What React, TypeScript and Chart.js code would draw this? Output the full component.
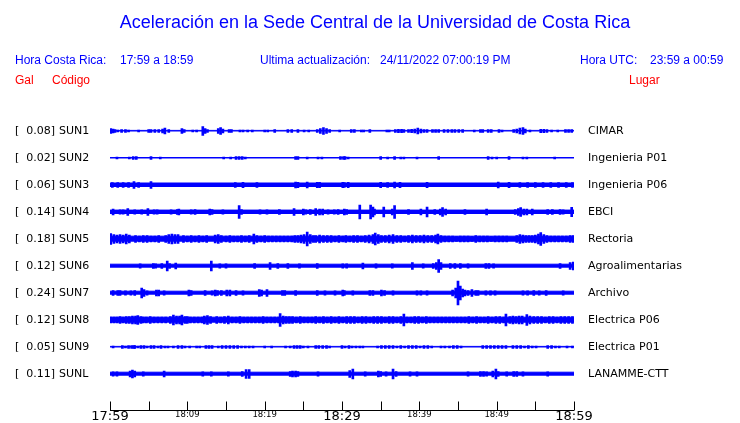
import React, { useEffect, useRef } from 'react';
import { Chart, registerables } from 'chart.js';
Chart.register(...registerables);

// ---- Data ----
const titleText = 'Aceleración en la Sede Central de la Universidad de Costa Rica';
const codes = ['SUN1', 'SUN2', 'SUN3', 'SUN4', 'SUN5', 'SUN6', 'SUN7', 'SUN8', 'SUN9', 'SUNL'];
const galMax = ['0.08', '0.02', '0.06', '0.14', '0.18', '0.12', '0.24', '0.12', '0.05', '0.11'];
const places = ['CIMAR', 'Ingenieria P01', 'Ingenieria P06', 'EBCI', 'Rectoria', 'Agroalimentarias', 'Archivo', 'Electrica P06', 'Electrica P01', 'LANAMME-CTT'];
// minutes after 17:59
const tickMinutes = [0, 5, 10, 15, 20, 25, 30, 35, 40, 45, 50, 55, 60];
const labelMinutes = [0, 10, 20, 30, 40, 50, 60];
const timeLabels = ['17:59', '18:09', '18:19', '18:29', '18:39', '18:49', '18:59'];
const majorLabels = ['17:59', '18:29', '18:59'];

// background noise half-amplitude of each trace
const baseAmp = [0.6, 0.5, 2.0, 1.9, 2.8, 1.8, 1.8, 2.8, 0.6, 1.8];

// [minute, half-amplitude]
const sun1 = [[0.1,2.3],[0.4,2],[0.65,1.5],[1.0,1],[1.5,1.3],[2.0,1.3],[2.4,1],[3.7,1],[5.0,1.3],[5.3,1.3],[5.8,1.5],[6.3,1.3],[6.8,2],[7.1,2.8],[7.6,1.3],[9.3,2.5],[9.6,1.3],[10.7,1],[11.2,1],[12.0,4.3],[12.3,2.5],[12.6,1.5],[14.0,2.5],[14.3,3.3],[14.6,2],[15.4,1.5],[15.7,1.5],[16.8,1],[17.2,1],[17.8,1],[18.4,1],[20.0,1],[20.4,1],[21.3,1.3],[23.0,1.3],[23.5,1.3],[24.3,1.3],[25.1,1],[25.7,1],[26.8,1.5],[27.2,2.5],[27.6,3.3],[28.0,2.5],[28.4,1.5],[29.7,1],[31.2,1.5],[31.6,1.5],[32.5,1],[32.8,1],[33.6,1.5],[35.8,1],[36.1,1],[36.9,1.3],[37.3,1.7],[37.7,1.7],[38.0,1.3],[38.6,1.3],[39.0,1.7],[39.4,2],[39.8,2.8],[40.2,2],[40.6,1.5],[41.0,1.5],[41.7,1.5],[42.1,1.5],[42.5,1.5],[43.2,1.3],[43.7,1.3],[44.2,1.5],[44.6,1.3],[45.1,1.3],[45.6,1.3],[47.1,1],[47.9,1.5],[48.2,1.5],[48.9,1.5],[49.3,1.5],[50.3,1.3],[50.7,1],[52.2,1.5],[52.6,2],[53.0,2.8],[53.4,3.3],[53.7,2],[54.3,1],[55.7,1.7],[56.1,1.7],[56.5,1.3],[57.1,1],[57.9,1],[58.9,1.5],[59.3,1.5],[59.7,1.5]];
const sun2 = [[0.9,0.8],[2.5,0.8],[3.0,1.3],[3.4,1.3],[5.3,1.3],[6.5,1],[14.7,0.8],[15.6,1],[16.3,1.3],[16.7,1.3],[17.1,1.3],[17.5,1],[24.0,1.3],[24.3,1.3],[25.5,0.8],[26.9,1],[27.4,0.8],[29.8,1.3],[30.2,1.3],[30.4,1.3],[30.8,1],[35.0,1.3],[35.9,0.8],[36.8,1.3],[37.6,1],[38.0,1],[39.7,0.8],[42.5,1.3],[48.9,1.3],[49.4,1],[50.0,1],[51.6,1.3],[53.4,0.8],[53.9,0.8],[57.5,0.8]];
const sun3 = [[0.3,2.3],[1.0,2.3],[1.7,2.3],[2.4,2.3],[3.1,3.5],[3.7,2.5],[5.3,3.5],[16.2,2.4],[17.2,2.6],[19.0,2.3],[24.0,3],[24.3,2.6],[25.5,3],[26.8,2.6],[27.1,2.6],[30.1,2.6],[30.3,2.3],[30.8,2.6],[35.0,2.6],[35.9,2.3],[36.8,3],[37.5,2.6],[41.0,2.6],[50.2,3],[51.6,2.6],[53.0,2.3],[54.0,2.3],[55.0,2.3],[56.0,2.3],[57.0,2.3],[58.0,2.3],[59.0,2.3],[59.8,2.3]];
const sun4 = [[0.4,2.8],[1.3,2.2],[1.7,2.1],[2.3,3.3],[3.2,2.1],[4.1,2.2],[4.9,3.3],[5.7,2.2],[6.1,2.1],[7.9,2.2],[8.7,2.5],[8.9,2.8],[10.5,2.2],[11.0,2.5],[12.9,3],[13.2,2.5],[14.6,2.2],[16.7,6.3],[17.0,2.5],[19.4,2.2],[20.3,2.1],[21.9,2.5],[23.8,3.3],[25.0,3],[25.3,2.2],[25.9,2.5],[26.6,3.5],[27.1,2.8],[27.5,3],[28.2,2.2],[29.0,2.2],[29.5,2.5],[30.3,3],[30.6,2.5],[32.3,7],[33.7,7],[34.0,5],[34.2,3],[35.4,5],[36.5,3],[36.8,6.3],[38.6,2.5],[40.2,3],[41.0,5],[42.0,2.5],[42.7,3],[43.0,4.3],[43.4,3],[45.9,2.5],[48.7,3],[52.4,2.5],[52.8,3.3],[53.1,4.3],[53.5,3],[53.9,2.8],[54.6,2.8],[56.6,2.5],[57.2,2.5],[58.2,2.5],[58.6,2.1],[59.7,4.7]];
const sun5 = [[0.1,5.5],[0.5,4.5],[0.9,4],[1.3,4.3],[1.7,4],[2.1,5],[2.5,4],[3.3,3.3],[3.8,3],[4.3,3.5],[4.8,3.3],[5.3,3],[5.8,3],[6.3,3.3],[7.2,3.5],[7.6,4.5],[8.0,5],[8.4,4.3],[8.8,4.5],[9.5,3.5],[10.0,3],[10.5,3.5],[11.0,3],[11.5,3.5],[12.0,3],[12.5,3.3],[13.6,4],[14.0,4.5],[14.4,3.5],[15.0,3],[15.5,3.5],[16.0,3],[16.5,3],[17.0,3.5],[17.5,3],[18.0,3.5],[18.6,5],[19.0,3.5],[19.5,3],[20.0,3.3],[20.5,3],[21.0,3],[21.5,3],[22.0,2.8],[22.5,3],[23.0,3],[23.5,3],[23.9,3.3],[24.3,3.5],[24.7,4],[25.1,4.5],[25.5,7],[25.9,4.3],[26.3,3.5],[26.6,3.5],[27.1,4],[27.6,3.5],[28.1,3.3],[28.6,3.5],[29.1,3],[29.6,3.5],[30.1,3],[30.5,3.5],[31.0,3],[31.5,3.5],[32.0,3.5],[32.5,3],[33.0,3.5],[33.5,4],[34.0,4.5],[34.3,6],[34.7,4.5],[35.1,3.5],[35.6,3.5],[36.1,4],[36.6,4.3],[37.1,3.3],[37.6,3.5],[38.1,3],[38.6,3.5],[39.1,4],[39.6,3.5],[40.1,3.5],[40.6,4],[41.1,3.5],[41.6,3.5],[42.1,4],[42.4,5],[42.8,3.5],[43.3,3],[43.8,2.8],[44.3,3],[44.8,2.5],[45.3,3],[45.8,2.8],[46.3,3],[46.8,2.5],[47.3,3.3],[47.8,3],[48.3,2.8],[48.8,3],[49.3,2.5],[49.8,3],[50.3,2.8],[50.8,3],[51.3,3],[52.6,3.5],[53.0,4.3],[53.4,4],[53.8,3.5],[54.2,3.5],[54.6,3.5],[55.0,4],[55.4,5],[55.7,6.5],[56.1,4.5],[56.5,3.5],[57.0,3],[57.5,2.8],[58.0,3],[58.5,3],[59.0,3],[59.5,3.3],[59.9,3.5]];
const sun6 = [[3.9,2.2],[5.6,2.5],[5.9,2.2],[6.7,2.5],[7.4,5],[7.7,2.5],[8.5,3],[13.1,5],[14.2,2.2],[15.0,2.1],[18.7,2.5],[20.7,3.5],[21.7,2.5],[23.0,2.5],[24.5,2.2],[26.8,2.5],[30.1,2.2],[30.6,2.1],[32.7,3],[34.4,2.1],[36.5,2.1],[39.1,3.3],[40.5,2.1],[41.8,2.5],[42.2,3.5],[42.5,6.3],[42.8,3.5],[44.0,2.5],[44.6,2.5],[45.3,2.5],[46.3,2.1],[48.6,2.5],[49.0,2.5],[49.6,2.2],[58.2,2.5],[59.5,3.5],[59.9,4]];
const sun7 = [[0.4,2.5],[1.0,2.5],[1.3,2.5],[2.0,2.2],[2.7,2.2],[3.2,2.5],[4.1,5],[4.4,3.3],[4.8,2.1],[6.0,2.8],[6.3,2.8],[7.0,2.2],[10.2,2.8],[10.5,2.5],[12.3,2.5],[13.2,2.2],[13.6,3],[13.9,2.5],[14.4,2.5],[15.1,2.8],[15.5,2.8],[16.3,2.5],[17.2,2.1],[19.3,3.3],[19.6,3],[20.3,3.5],[22.3,2.5],[22.6,2.5],[24.0,2.5],[26.8,2.5],[27.8,2.2],[29.1,2.1],[30.1,2.8],[30.3,2.5],[31.4,2.2],[33.6,2.5],[34.0,2.5],[35.1,2.8],[35.5,2.5],[36.6,2.1],[39.7,2.2],[40.2,2.2],[41.0,2.2],[44.3,3],[44.7,5],[45.0,12],[45.3,7],[45.6,4],[45.9,3],[46.3,2.5],[46.8,3.3],[47.3,2.5],[47.6,2.5],[48.6,2.2],[49.2,2.2],[49.8,2.2],[53.4,2.2],[54.0,2.2],[54.8,2.5],[55.5,2.2],[56.4,2.5],[58.6,2.1]];
const sun8 = [[0.1,3],[0.5,3],[0.9,3],[1.3,3.3],[1.7,3],[2.1,3.5],[2.5,3.3],[2.9,4],[3.3,4],[3.6,4.5],[4.0,3.5],[4.3,3],[4.7,3],[5.2,3.3],[5.7,3],[6.2,2.9],[6.7,3],[7.2,2.9],[7.8,3.5],[8.2,5],[8.6,4],[9.0,4],[9.3,5],[9.7,3.5],[10.0,3.3],[10.4,3],[10.9,2.9],[11.4,3],[11.9,3],[12.2,4],[12.6,4.5],[13.0,3.5],[13.8,3.3],[14.3,3],[14.8,3.5],[15.3,4],[15.8,3],[16.3,3],[16.8,3.3],[17.3,3],[17.8,3],[18.3,3],[18.8,3],[19.3,3],[19.8,3.3],[20.3,3],[20.8,3],[21.3,2.9],[21.8,3],[22.0,6.3],[22.4,4],[22.8,3.5],[23.2,3.5],[23.6,3.3],[24.1,3],[24.6,3.3],[25.1,3],[25.6,3],[26.1,3],[26.6,3.3],[27.1,3],[27.6,3.5],[28.1,3],[28.6,3.3],[29.1,3],[29.6,3.3],[30.1,3],[30.6,3.5],[31.1,3.3],[31.6,3.5],[32.1,3],[32.6,3.3],[33.1,3.5],[33.6,3],[34.1,3.3],[34.6,3.5],[35.1,3.3],[35.6,3],[36.1,3.5],[36.6,3.3],[37.1,3],[37.6,3.3],[38.0,6],[38.4,3],[38.9,3],[39.4,3.3],[39.9,3.5],[40.4,3],[40.9,3.3],[41.4,3],[41.9,3],[42.4,2.9],[42.9,3],[43.4,3],[43.9,3],[44.4,3],[44.9,2.9],[45.4,3],[45.9,3],[46.4,3.3],[46.9,3],[47.4,3.3],[47.9,3],[48.4,3],[48.9,3.3],[49.4,3],[49.9,3.5],[50.4,3.3],[50.9,3],[51.2,6],[51.7,3.5],[52.1,4],[52.5,3.5],[52.9,4],[53.3,4],[53.9,5.5],[54.3,4],[54.8,3.5],[55.3,3.5],[55.8,3.3],[56.3,3],[56.8,3.5],[57.3,3.3],[57.8,3],[58.3,3.5],[58.8,3.5],[59.3,3.3],[59.8,3.5]];
const sun9 = [[0.4,1],[1.6,1.3],[2.0,1],[2.4,1.3],[2.8,1.3],[3.1,1.5],[3.2,1.3],[3.6,1],[4.0,1.3],[4.4,1.3],[4.8,1],[5.3,1.3],[5.7,1.3],[6.2,1],[6.6,1.3],[7.1,1],[7.5,1],[8.2,1],[8.8,1.3],[9.3,1.3],[9.7,1],[10.3,1],[11.2,0.8],[11.6,1],[12.4,1.3],[12.8,1.3],[13.2,1.3],[14.0,1],[14.5,1.3],[15.0,1.3],[15.5,1.3],[16.0,1.3],[16.5,1.3],[17.0,1],[17.5,1],[18.0,1],[18.5,1],[20.0,1],[20.9,1],[22.7,1],[23.3,1],[23.8,1.3],[24.2,1.3],[24.6,1.3],[25.0,1],[25.6,1],[26.6,1.3],[27.0,1.3],[27.5,1.3],[28.0,1.3],[28.4,1],[30.0,1.3],[30.4,1],[30.9,1.3],[31.3,1],[31.8,1],[32.3,1],[32.7,1],[34.6,1],[35.1,1.3],[35.6,1.3],[36.1,1.3],[36.6,1.3],[37.1,1],[37.6,1.3],[38.1,1],[38.6,1.3],[39.1,1.3],[39.6,1.3],[40.1,1],[40.6,1.3],[41.1,1.3],[41.6,1],[42.8,1],[43.3,1],[43.9,1],[44.4,1.3],[44.9,1.3],[45.4,1],[48.2,1.3],[48.7,1.3],[49.2,1.3],[49.7,1.3],[50.2,1.5],[50.7,1.3],[51.2,1.3],[52.1,1.3],[52.6,1.3],[53.1,1.3],[53.6,1],[54.1,1.3],[54.6,1],[55.1,1],[56.6,1.3],[57.1,1.3],[57.6,1],[58.1,1],[59.1,1],[59.8,1]];
const sunL = [[0.4,2.2],[0.9,2.1],[2.6,3],[2.9,4],[3.2,3],[4.3,2.1],[7.0,3],[12.0,2.1],[13.1,2.2],[15.3,2.1],[17.1,2.5],[17.6,4.5],[18.0,4.3],[23.3,2.5],[23.6,3],[24.0,3],[24.3,2.5],[26.9,2.1],[31.0,3.3],[31.4,5],[33.0,2.2],[34.7,2.8],[35.0,2.5],[35.7,2.2],[36.6,5],[37.0,2.5],[38.8,2.2],[39.7,2.1],[46.3,2.2],[47.9,2.5],[48.3,2.5],[48.7,2.2],[49.5,3],[49.9,5],[50.2,2.5],[51.3,2.1],[52.2,2.5],[52.6,2.5],[53.4,2.2],[56.6,2.1]];
const spikes = [sun1, sun2, sun3, sun4, sun5, sun6, sun7, sun8, sun9, sunL];

const TRACE = 'rgb(0,0,255)';
const AMP_PER_ROW = 27; // amplitude units per row spacing

const textPlugin = {
  id: 'seisText',
  afterDraw(chart: any) {
    const ctx = chart.ctx as CanvasRenderingContext2D;
    const xs = chart.scales.x;
    const ys = chart.scales.y;
    ctx.save();
    // title
    ctx.fillStyle = 'rgb(0,0,255)';
    ctx.font = '18px "Liberation Sans", Arial, sans-serif';
    ctx.textAlign = 'center';
    ctx.textBaseline = 'middle';
    ctx.fillText(titleText, 375, 23);
    // header
    ctx.font = '12px "Liberation Sans", Arial, sans-serif';
    ctx.textAlign = 'left';
    ctx.fillText('Hora Costa Rica:', 15, 61);
    ctx.fillText('17:59 a 18:59', 120, 61);
    ctx.fillText('Ultima actualización:', 260, 61);
    ctx.fillText('24/11/2022 07:00:19 PM', 380, 61);
    ctx.fillText('Hora UTC:', 580, 61);
    ctx.fillText('23:59 a 00:59', 650, 61);
    ctx.fillStyle = 'rgb(255,0,0)';
    ctx.fillText('Gal', 15, 81);
    ctx.fillText('Código', 52, 81);
    ctx.fillText('Lugar', 629, 81);
    // row labels
    ctx.fillStyle = '#000';
    ctx.font = '11px "DejaVu Sans", sans-serif';
    codes.forEach((c, i) => {
      const py = ys.getPixelForValue(i);
      ctx.textAlign = 'left';
      ctx.fillText('[', 15, py);
      ctx.textAlign = 'right';
      ctx.fillText(galMax[i] + ']', 55, py);
      ctx.textAlign = 'left';
      ctx.fillText(c, 59, py);
      ctx.fillText(places[i], 588, py);
    });
    // time axis
    const axisY = Math.round(chart.chartArea.bottom) + 0.5;
    ctx.strokeStyle = '#000';
    ctx.lineWidth = 1;
    ctx.beginPath();
    ctx.moveTo(xs.getPixelForValue(0), axisY);
    ctx.lineTo(xs.getPixelForValue(60), axisY);
    tickMinutes.forEach((m) => {
      const px = Math.round(xs.getPixelForValue(m)) + 0.5;
      ctx.moveTo(px, axisY);
      ctx.lineTo(px, axisY - 9);
    });
    ctx.stroke();
    ctx.textAlign = 'center';
    ctx.textBaseline = 'middle';
    labelMinutes.forEach((m, k) => {
      const lab = timeLabels[k];
      const major = majorLabels.includes(lab);
      ctx.font = (major ? '13px' : '8.5px') + ' "DejaVu Sans", sans-serif';
      ctx.fillText(lab, xs.getPixelForValue(m), major ? 417 : 415);
    });
    ctx.restore();
  },
};

export default function App() {
  const ref = useRef<HTMLCanvasElement>(null);
  useEffect(() => {
    document.body.style.margin = '0';
    const datasets: any[] = [];
    codes.forEach((c, i) => {
      const b = baseAmp[i] / AMP_PER_ROW;
      datasets.push({
        type: 'line',
        label: c + ' noise',
        data: [{ x: 0, y: i - b }, { x: 60, y: i - b }],
        fill: { value: i + b },
        borderColor: TRACE,
        backgroundColor: TRACE,
        borderWidth: 1,
        pointRadius: 0,
        order: 2,
      });
      datasets.push({
        type: 'bar',
        label: c,
        data: spikes[i].map(([m, a]) => ({ x: m, y: [i - a / AMP_PER_ROW, i + a / AMP_PER_ROW] })),
        backgroundColor: TRACE,
        borderWidth: 0,
        barThickness: 2,
        grouped: false,
        order: 1,
      });
    });
    const chart = new Chart(ref.current!, {
      type: 'bar',
      data: { datasets },
      options: {
        responsive: false,
        animation: false,
        devicePixelRatio: 1,
        layout: { padding: { left: 110, right: 166, top: 117.5, bottom: 13 } },
        plugins: { legend: { display: false }, tooltip: { enabled: false }, title: { display: false } },
        scales: {
          x: { type: 'linear', min: 0, max: 60, offset: false, display: false },
          y: { type: 'linear', min: -0.5, max: 10 + 1 / 3, reverse: true, display: false },
        },
      },
      plugins: [textPlugin],
    } as any);
    return () => chart.destroy();
  }, []);
  return (
    <div style={{ width: 740, height: 423, background: '#fff' }}>
      <canvas ref={ref} width={740} height={423} />
    </div>
  );
}
